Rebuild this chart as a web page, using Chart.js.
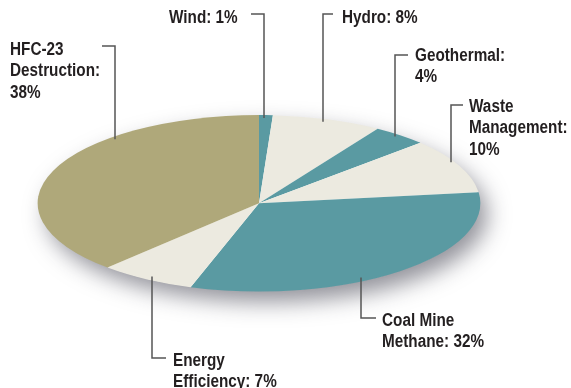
<!DOCTYPE html>
<html>
<head>
<meta charset="utf-8">
<script src="https://cdn.jsdelivr.net/npm/chart.js@4/dist/chart.umd.min.js"></script>
<style>
  html, body { margin: 0; padding: 0; background: #fff; }
  #wrap { width: 571px; height: 388px; position: relative; }
</style>
</head>
<body>
<div id="wrap"><canvas id="pieChart" width="571" height="388"></canvas></div>
<script>
// offset project shares, clockwise from 12 o'clock
const sectors = ['Wind', 'Hydro', 'Geothermal', 'Waste Management', 'Coal Mine Methane', 'Energy Efficiency', 'HFC-23 Destruction'];
const shares = [1, 8, 4, 10, 32, 7, 38];
const sliceColors = ['#5a9aa2', '#eceae0', '#5a9aa2', '#eceae0', '#5a9aa2', '#eceae0', '#afa87a'];
const labelLines = [
  ['Wind: 1%'],
  ['Hydro: 8%'],
  ['Geothermal:', '4%'],
  ['Waste', 'Management:', '10%'],
  ['Coal Mine', 'Methane: 32%'],
  ['Energy', 'Efficiency: 7%'],
  ['HFC-23', 'Destruction:', '38%']
];

// where each callout sits: text origin, elbow and the leg going to the pie
const callouts = [
  { tx: 169, ty: 23, elbowX: 251, elbowY: 14, legX: 264, side: 'top' },
  { tx: 342, ty: 23, elbowX: 333, elbowY: 14, legX: 323, side: 'top' },
  { tx: 415, ty: 61, elbowX: 408, elbowY: 55, legX: 395, side: 'top' },
  { tx: 469, ty: 112, elbowX: 463, elbowY: 105, legX: 451, side: 'top' },
  { tx: 382, ty: 326, elbowX: 376, elbowY: 318, legX: 361, side: 'bottom' },
  { tx: 173, ty: 366, elbowX: 166, elbowY: 358, legX: 152, side: 'bottom' },
  { tx: 10, ty: 55, elbowX: 102, elbowY: 46, legX: 115, side: 'top' }
];

const stretchX = 222 / 88.5;
const lineGap = 21.3;
const textSquash = 0.85;

// squash the pie into a flat ellipse with a soft drop shadow
const ellipsePie = {
  id: 'ellipsePie',
  beforeDatasetsDraw(chart) {
    const arc = chart.getDatasetMeta(0).data[0];
    const ctx = chart.ctx;
    ctx.save();
    ctx.translate(arc.x, arc.y);
    ctx.scale(stretchX, 1);
    ctx.translate(-arc.x, -arc.y);

    ctx.save();
    ctx.shadowColor = 'rgba(40, 40, 55, 0.5)';
    ctx.shadowBlur = 22;
    ctx.shadowOffsetX = 8;
    ctx.shadowOffsetY = 11;
    ctx.fillStyle = '#ffffff';
    ctx.beginPath();
    ctx.arc(arc.x, arc.y, arc.outerRadius - 0.5, 0, Math.PI * 2);
    ctx.fill();
    ctx.restore();
  },
  afterDatasetsDraw(chart) {
    chart.ctx.restore();
  }
};

// callout text with elbow leader lines
const calloutPlugin = {
  id: 'callouts',
  afterDraw(chart) {
    const ctx = chart.ctx;
    const arc = chart.getDatasetMeta(0).data[0];
    const rx = arc.outerRadius * stretchX;
    const ry = arc.outerRadius;
    ctx.save();
    ctx.strokeStyle = '#555555';
    ctx.lineWidth = 1.5;
    callouts.forEach((c, i) => {
      const dx = (c.legX - arc.x) / rx;
      const h = ry * Math.sqrt(Math.max(0, 1 - dx * dx));
      const endY = c.side === 'top' ? arc.y - h + 3 : arc.y + h - 4;
      ctx.beginPath();
      ctx.moveTo(c.elbowX, c.elbowY);
      ctx.lineTo(c.legX, c.elbowY);
      ctx.lineTo(c.legX, endY);
      ctx.stroke();

      // condensed bold look: narrow the glyphs horizontally
      ctx.save();
      ctx.translate(c.tx, c.ty);
      ctx.scale(textSquash, 1);
      ctx.fillStyle = '#231f20';
      ctx.font = 'bold 18px "Liberation Sans", Arial, sans-serif';
      ctx.textAlign = 'left';
      ctx.textBaseline = 'alphabetic';
      labelLines[i].forEach((t, j) => ctx.fillText(t, 0, j * lineGap));
      ctx.restore();
    });
    ctx.restore();
  }
};

new Chart(document.getElementById('pieChart'), {
  type: 'pie',
  data: {
    labels: sectors,
    datasets: [{
      data: shares,
      backgroundColor: sliceColors,
      borderWidth: 0
    }]
  },
  options: {
    responsive: false,
    animation: false,
    rotation: 0,
    layout: { padding: { left: 170.5, right: 223.5, top: 115, bottom: 96.5 } },
    plugins: {
      legend: { display: false },
      tooltip: { enabled: false }
    }
  },
  plugins: [ellipsePie, calloutPlugin]
});
</script>
</body>
</html>
